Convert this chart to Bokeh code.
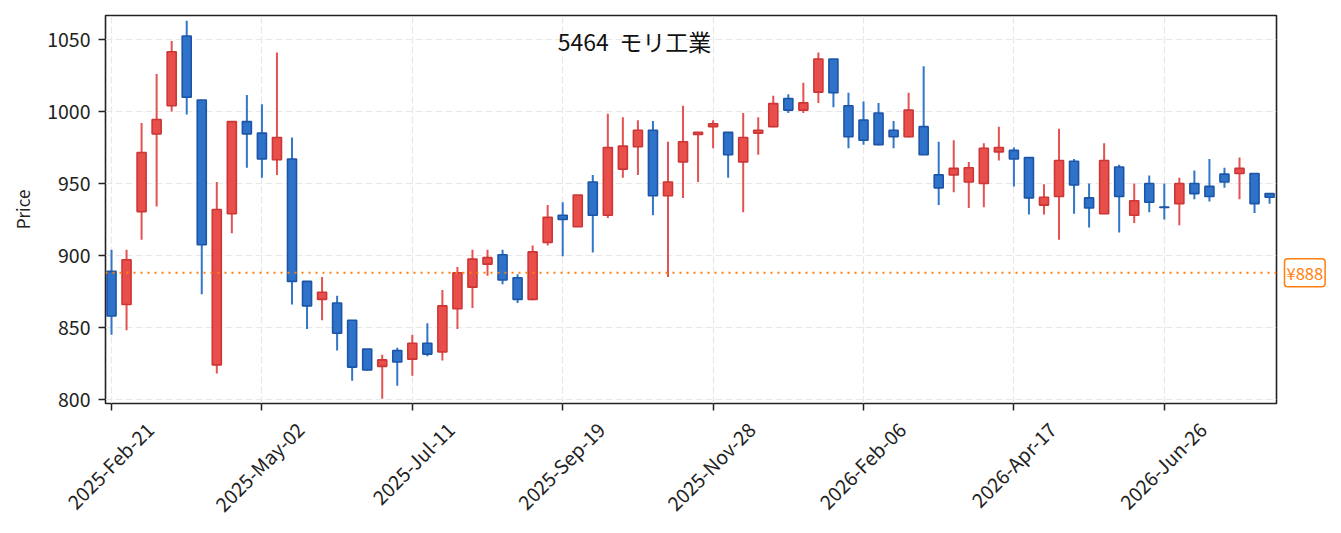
import numpy as np
import pandas as pd
from math import pi
from bokeh.plotting import figure
from bokeh.models import (Range1d, FixedTicker, DatetimeTickFormatter, Label,
                          Span, ColumnDataSource)
from bokeh.embed import file_html
from bokeh.resources import INLINE

# ---------------- data ----------------
dates = pd.date_range("2025-02-21", periods=78, freq="7D")

opens = [889, 866, 930.5, 984.5, 1004, 1052.5, 1008, 824, 929, 993,
         985, 966.5, 967, 882, 869.5, 867, 855, 835, 823, 834,
         828, 839, 833, 863, 878, 894, 900.5, 884.5, 869.5, 909,
         928, 920, 951, 928, 960, 975.5, 987, 941.5, 965, 984,
         989.5, 985.5, 965, 985, 989.5, 1009, 1001, 1013.5, 1036.5, 1004,
         994, 999, 987, 982.5, 989.5, 956, 956, 951, 950, 972,
         973, 968, 935, 941, 965.5, 940, 929, 961.5, 928, 950,
         933.6, 936, 950, 948, 956.5, 957, 957, 943]
highs = [904, 904, 992, 1026, 1049, 1063, 1008, 951, 993, 1011.5,
         1005, 1041, 982, 882, 885, 872, 855, 835, 831, 836,
         845, 853, 876, 892, 904, 904, 904, 887, 907, 935,
         937, 942, 956, 998.5, 996, 994, 993.5, 979, 1004, 985.5,
         994, 985.5, 999, 996, 1011, 1012, 1020, 1041, 1036.5, 1013,
         1007, 1006, 993.5, 1013, 1031.5, 979, 980, 965, 978, 989.5,
         975, 968, 949.5, 988, 967, 950, 978, 963, 950, 955.5,
         950, 954, 959, 967, 961, 968, 957, 943]
lows = [845, 848, 911, 934, 1000, 998, 873, 818, 915.5, 961,
        954, 956, 866, 849, 855, 834, 813, 820, 800.5, 809.5,
        816.5, 830, 827, 849, 863.5, 886, 880, 867, 869, 907,
        899.5, 920, 902, 926, 954, 956, 928, 885, 940, 951,
        974.5, 954, 930, 970, 989, 999, 999, 1006, 1003, 974.5,
        977, 976.5, 974.5, 982, 970, 935, 944, 933, 933.5, 966,
        948, 928.5, 928.5, 911, 929, 919.5, 929, 916, 922.5, 930,
        925, 921, 939, 937.5, 947, 939, 929.5, 936]
closes = [858, 897, 971.5, 994.5, 1041.5, 1010, 907.5, 932, 993, 984.5,
          967, 982, 882, 865, 874.5, 846, 822.5, 820.5, 827.5, 826,
          839, 831.5, 865, 888, 897.5, 898.5, 883, 869.5, 902.5, 926.5,
          925, 942, 928, 975, 976, 987, 941.5, 951, 979, 985.5,
          991.5, 970, 982, 987, 1005.5, 1001, 1006, 1036.5, 1013, 982.5,
          980, 977, 982.5, 1001, 970, 947, 960.5, 961, 974.5, 975,
          967, 940, 940.5, 966, 949, 933, 966, 941, 938, 937,
          933.4, 950, 943, 941, 951, 960.5, 936, 940.5]

ref_price = 888
title_text = "5464  モリ工業"
y_ticks = [800, 850, 900, 950, 1000, 1050]
tick_step = 10

# ---------------- styling ----------------
UP_FILL, UP_LINE, UP_WICK = "#e84f4b", "#cc3636", "#e45252"
DN_FILL, DN_LINE, DN_WICK = "#2e72c9", "#1d55a6", "#3176c8"
FONT = "Noto Sans CJK JP"
TICK_FS = "19.5px"
INK = "#222222"

week_ms = 7 * 24 * 3600 * 1000
xs = [d.value // 10**6 for d in dates]
up = [c >= o for o, c in zip(opens, closes)]

src = ColumnDataSource(dict(
    x=xs, high=highs, low=lows,
    top=[max(o, c) for o, c in zip(opens, closes)],
    bottom=[min(o, c) for o, c in zip(opens, closes)],
    fill=[UP_FILL if u else DN_FILL for u in up],
    line=[UP_LINE if u else DN_LINE for u in up],
    wick=[UP_WICK if u else DN_WICK for u in up],
))

x_start = xs[0] - 0.4 * week_ms
x_end = xs[-1] + 0.46 * week_ms
y_lo, y_hi = 797.2, 1066.7

p = figure(width=1335, height=531, x_axis_type="datetime",
           x_range=Range1d(x_start, x_end), y_range=Range1d(y_lo, y_hi),
           output_backend="svg", toolbar_location=None,
           min_border_left=105, min_border_right=59,
           min_border_top=15, min_border_bottom=128)
p.background_fill_color = "white"
p.border_fill_color = "white"

p.grid.grid_line_color = "#e8e8e8"
p.grid.grid_line_dash = "7 3"
p.grid.grid_line_width = 1.2

p.segment(x0="x", y0="high", x1="x", y1="low", line_color="wick",
          line_width=2, source=src)
p.vbar(x="x", width=0.6 * week_ms, top="top", bottom="bottom",
       fill_color="fill", line_color="line", line_width=1.6, source=src)

p.add_layout(Span(location=ref_price, dimension="width", line_color="#ff7f0e",
                  line_dash="2 5", line_width=2))

# price tag in the right-hand side panel
p.add_layout(Label(x=1284, x_units="canvas", y=ref_price, text=f"¥{ref_price}",
                   text_align="left", text_baseline="middle",
                   text_color="#ff7f0e", text_font=FONT, text_font_size="16.5px",
                   border_line_color="#ff7f0e", border_line_width=1.5,
                   background_fill_color="white", padding=2, border_radius=3),
             "right")

p.add_layout(Label(x=xs[0] + 34.77 * week_ms, y=1049,
                   text=title_text.replace(" ", "\u00a0"),
                   text_align="center", text_baseline="middle",
                   text_font=FONT, text_font_size="23px", text_color="#111111"))

# x axis: visible tick marks are the ticker's "minor" ticks at the real
# dates; the labels sit on invisible major ticks shifted right so that each
# rotated label is centred on its tick mark.
tick_x = xs[::tick_step]
shift = int(2.53 * week_ms)
label_x = [t + shift for t in tick_x]
p.xaxis.ticker = FixedTicker(ticks=label_x, minor_ticks=tick_x)
p.xaxis.major_label_overrides = {lx: d.strftime("%Y-%b-%d")
                                 for lx, d in zip(label_x, dates[::tick_step])}
p.xaxis.major_label_orientation = pi / 4
p.xaxis.major_tick_line_color = None
p.xaxis.major_tick_out = 0
p.xaxis.major_tick_in = 0
p.xaxis.major_label_standoff = 15
p.xaxis.minor_tick_line_color = INK
p.xaxis.minor_tick_line_width = 1.5
p.xaxis.minor_tick_out = 7
p.xaxis.minor_tick_in = 0
p.xgrid.ticker = FixedTicker(ticks=tick_x)

p.yaxis.ticker = FixedTicker(ticks=y_ticks)
p.yaxis.axis_label = "Price"
p.yaxis.major_label_standoff = 8
p.yaxis.axis_label_standoff = 9
p.yaxis.minor_tick_line_color = None
p.yaxis.major_tick_in = 0
p.yaxis.major_tick_out = 7
p.yaxis.major_tick_line_width = 1.5
p.yaxis.major_tick_line_color = INK

p.axis.major_label_text_font = FONT
p.axis.major_label_text_font_size = TICK_FS
p.axis.major_label_text_color = INK
p.axis.axis_label_text_font = FONT
p.axis.axis_label_text_font_size = "17px"
p.axis.axis_label_text_font_style = "normal"
p.axis.axis_label_text_color = INK
p.axis.axis_line_color = None
p.outline_line_color = INK
p.outline_line_width = 1.6
p.outline_line_alpha = 1.0

open("out.html", "w").write(file_html(p, INLINE))
